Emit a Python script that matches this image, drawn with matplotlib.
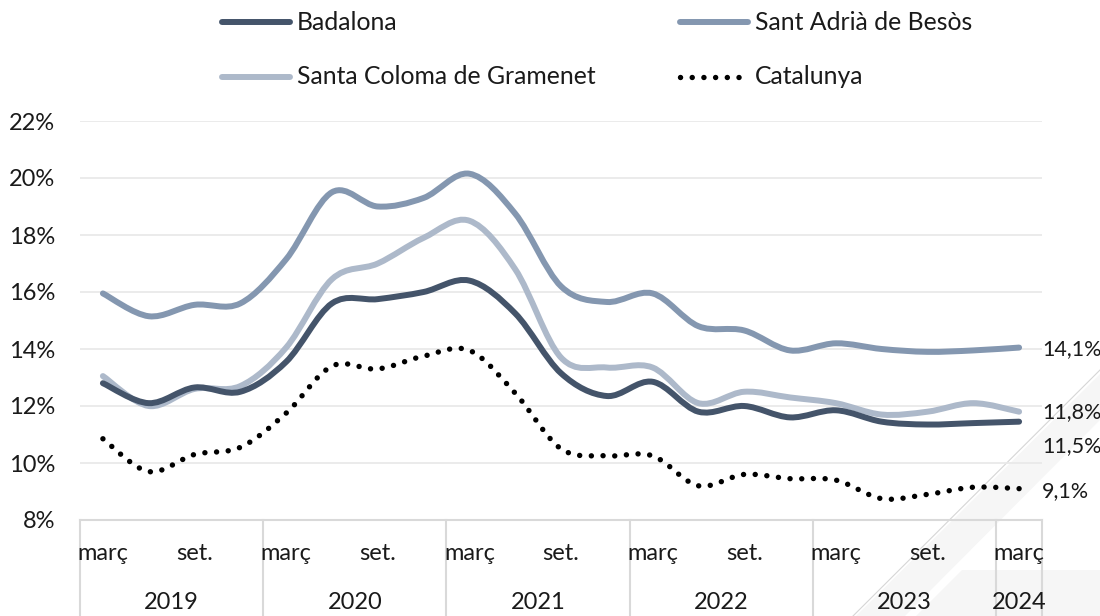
import numpy as np
import matplotlib
matplotlib.use('Agg')
import matplotlib.pyplot as plt
from matplotlib.path import Path
from matplotlib.patches import PathPatch, Polygon
from matplotlib.lines import Line2D
import matplotlib.transforms as mtransforms

plt.rcParams['font.family'] = ['Lato', 'DejaVu Sans']

# dades trimestrals, de març 2019 a març 2024
months = ['març', 'juny', 'set.', 'des.'] * 5 + ['març']
years = ['2019', '2020', '2021', '2022', '2023', '2024']

badalona = [12.8, 12.1, 12.65, 12.5, 13.55, 15.6, 15.75, 16.0, 16.4, 15.25, 13.15,
            12.35, 12.85, 11.8, 12.0, 11.6, 11.85, 11.45, 11.35, 11.4, 11.45]
sant_adria = [15.95, 15.15, 15.55, 15.6, 17.15, 19.5, 19.0, 19.3, 20.15, 18.75, 16.2,
              15.65, 15.95, 14.8, 14.65, 13.95, 14.2, 14.0, 13.9, 13.95, 14.05]
santa_coloma = [13.05, 12.0, 12.6, 12.7, 14.05, 16.45, 17.0, 17.9, 18.5, 16.8, 13.7,
                13.35, 13.35, 12.1, 12.5, 12.3, 12.1, 11.7, 11.8, 12.1, 11.8]
catalunya = [10.85, 9.7, 10.3, 10.55, 11.75, 13.4, 13.3, 13.75, 13.95, 12.45, 10.5,
             10.25, 10.25, 9.2, 9.6, 9.45, 9.4, 8.75, 8.9, 9.15, 9.1]

end_labels = ['14,1%', '11,8%', '11,5%', '9,1%']
legend_labels = ['Badalona', 'Sant Adrià de Besòs', 'Santa Coloma de Gramenet', 'Catalunya']

C_BAD = '#44546A'
C_SAD = '#8497B0'
C_SCG = '#ADB9CA'
C_TXT = '#1a1a1a'
C_GRID = '#e9e9e9'
C_BOX = '#d9d9d9'
FS = 17
DOTS = (0, (0.01, 2.15))


def smooth_path(y):
    # corba suau tipus Excel (Catmull-Rom -> Bezier)
    x = np.arange(len(y), dtype=float)
    p = np.column_stack([x, np.asarray(y, dtype=float)])
    verts = [p[0]]
    codes = [Path.MOVETO]
    n = len(p)
    for i in range(n - 1):
        p0 = p[max(i - 1, 0)]
        p1 = p[i]
        p2 = p[i + 1]
        p3 = p[min(i + 2, n - 1)]
        c1 = p1 + (p2 - p0) / 6.0
        c2 = p2 - (p3 - p1) / 6.0
        verts += [c1, c2, p2]
        codes += [Path.CURVE4] * 3
    return Path(verts, codes)


def fpx(x, y):
    # pixels -> coordenades de figura
    return x / 1100, 1 - y / 616


fig = plt.figure(figsize=(11, 6.16), dpi=100)

# decoracio de fons (cantonada inferior dreta)
fig.patches.append(Polygon([fpx(1100, 374), fpx(1100, 420), fpx(905, 616), fpx(856, 616)],
                           closed=True, transform=fig.transFigure, facecolor='#f6f6f6',
                           edgecolor='none', zorder=-5))
fig.patches.append(Polygon([fpx(962, 570), fpx(1100, 570), fpx(1100, 616), fpx(916, 616)],
                           closed=True, transform=fig.transFigure, facecolor='#f6f6f6',
                           edgecolor='none', zorder=-5))
fig.lines.append(Line2D([1.0, 853 / 1100], [1 - 370 / 616, 0], transform=fig.transFigure,
                        color='#d6d6d6', lw=0.8, zorder=-5))

ax = fig.add_axes([80 / 1100, 96 / 616, 962 / 1100, 399 / 616])
ax.patch.set_alpha(0)
ax.set_xlim(-0.5, 20.5)
ax.set_ylim(8, 22)

for v in range(10, 23, 2):
    ax.axhline(v, color=C_GRID, lw=1.3, zorder=1)

for vals, col in [(sant_adria, C_SAD), (santa_coloma, C_SCG), (badalona, C_BAD)]:
    ax.add_patch(PathPatch(smooth_path(vals), facecolor='none', edgecolor=col, lw=4.3,
                           capstyle='round', joinstyle='round', zorder=3))
ax.add_patch(PathPatch(smooth_path(catalunya), facecolor='none', edgecolor='black', lw=3.9,
                       linestyle=DOTS, capstyle='round', zorder=4))

# eix Y
ax.set_yticks(range(8, 23, 2))
ax.set_yticklabels(['%d%%' % v for v in range(8, 23, 2)], fontsize=FS, color=C_TXT)
ax.tick_params(axis='y', length=0, pad=18)
ax.set_xticks([])
for s in ax.spines.values():
    s.set_visible(False)

# taula de l'eix X
trans = mtransforms.blended_transform_factory(ax.transData, ax.transAxes)
ax.plot([-0.5, 20.5], [0, 0], transform=trans, color=C_BOX, lw=1.5, clip_on=False, zorder=2)
for b in [-0.5, 3.5, 7.5, 11.5, 15.5, 19.5, 20.5]:
    ax.plot([b, b], [0, -0.3], transform=trans, color=C_BOX, lw=1.5, clip_on=False, zorder=2)
for i, m in enumerate(months):
    if m in ('març', 'set.'):
        ax.text(i, -0.083, m, transform=trans, ha='center', va='center', fontsize=FS, color=C_TXT)
year_pos = [1.5, 5.5, 9.5, 13.5, 17.5, 20]
for yp, yr in zip(year_pos, years):
    ax.text(yp, -0.206, yr, transform=trans, ha='center', va='center', fontsize=FS, color=C_TXT)

# etiquetes finals
tr_lab = mtransforms.blended_transform_factory(ax.transAxes, fig.transFigure)
label_y = [349, 412, 446, 491]
for lab, yy in zip(end_labels, label_y):
    ax.text(1.0, 1 - yy / 616, lab, transform=tr_lab, ha='left', va='center',
            fontsize=15.5, color=C_TXT)

# llegenda (dibuixada a mà per controlar posicions)
leg_styles = [
    dict(color=C_BAD, lw=4.3, solid_capstyle='round'),
    dict(color=C_SAD, lw=4.3, solid_capstyle='round'),
    dict(color=C_SCG, lw=4.3, solid_capstyle='round'),
    dict(color='black', lw=3.9, linestyle=DOTS, dash_capstyle='round'),
]
leg_pos = [(222, 22), (680, 22), (222, 77), (680, 77)]
for (lx, ly), st, lab in zip(leg_pos, leg_styles, legend_labels):
    x0, y0 = fpx(lx, ly)
    x1, _ = fpx(lx + 68, ly)
    fig.lines.append(Line2D([x0, x1], [y0, y0], transform=fig.transFigure, **st))
    fig.text(x1 + 7 / 1100, y0, lab, ha='left', va='center', fontsize=FS + 0.8, color=C_TXT)

fig.savefig('out.png', dpi=100)
